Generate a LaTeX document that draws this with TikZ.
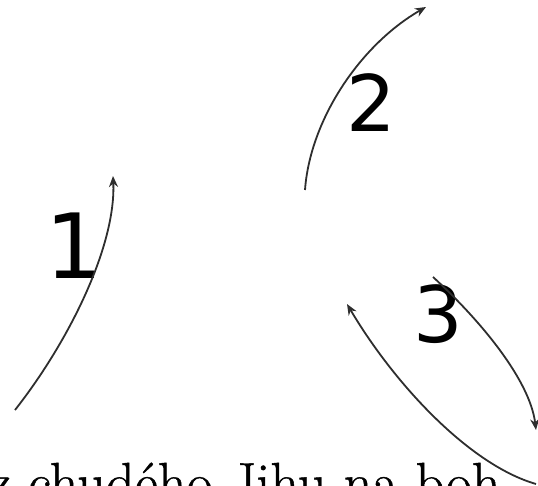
\documentclass[tikz,border=0pt]{standalone}
\usepackage{fontspec}
\newfontfamily\digitfont{DejaVu Sans}
\newfontfamily\captionfont[FakeBold=0.8]{Latin Modern Roman}
\usetikzlibrary{arrows.meta}
\begin{document}
\begin{tikzpicture}[x=1pt,y=-1pt,
  curvearrow/.style={draw=black!82,line width=1.8pt,-{Stealth[length=11pt,width=9pt]}},
  numlabel/.style={inner sep=0pt,anchor=base}]
\useasboundingbox (0,0) rectangle (538,486);
\clip (0,0) rectangle (538,486);
% endpoints
\coordinate (a1s) at (15,410);
\coordinate (a1e) at (113,176);
\coordinate (a2s) at (305,190);
\coordinate (a2e) at (426,7);
\coordinate (a3s) at (433,277);
\coordinate (a3e) at (536,430);
\coordinate (a4s) at (536,484);
\coordinate (a4e) at (347,304);
% labels
\node[numlabel,font=\digitfont\fontsize{90}{90}\selectfont] (n1) at (74.5,279) {1};
\node[numlabel,font=\digitfont\fontsize{78}{78}\selectfont] (n2) at (371.5,132) {2};
\node[numlabel,font=\digitfont\fontsize{78}{78}\selectfont] (n3) at (438,342) {3};
% arrows
\draw[curvearrow] (a1s) .. controls (70,340) and (116,245) .. (a1e);
\draw[curvearrow] (a2s) .. controls (310,120) and (360,45) .. (a2e);
\draw[curvearrow] (a3s) .. controls (480,320) and (530,380) .. (a3e);
\draw[curvearrow] (a4s) .. controls (470,465) and (395,385) .. (a4e);
% bottom text
\node[inner sep=0pt,anchor=base west,font=\captionfont\fontsize{56.5}{56.5}\selectfont] (txt) at (-12,502) {z chudého Jihu na boh};
\end{tikzpicture}
\end{document}
